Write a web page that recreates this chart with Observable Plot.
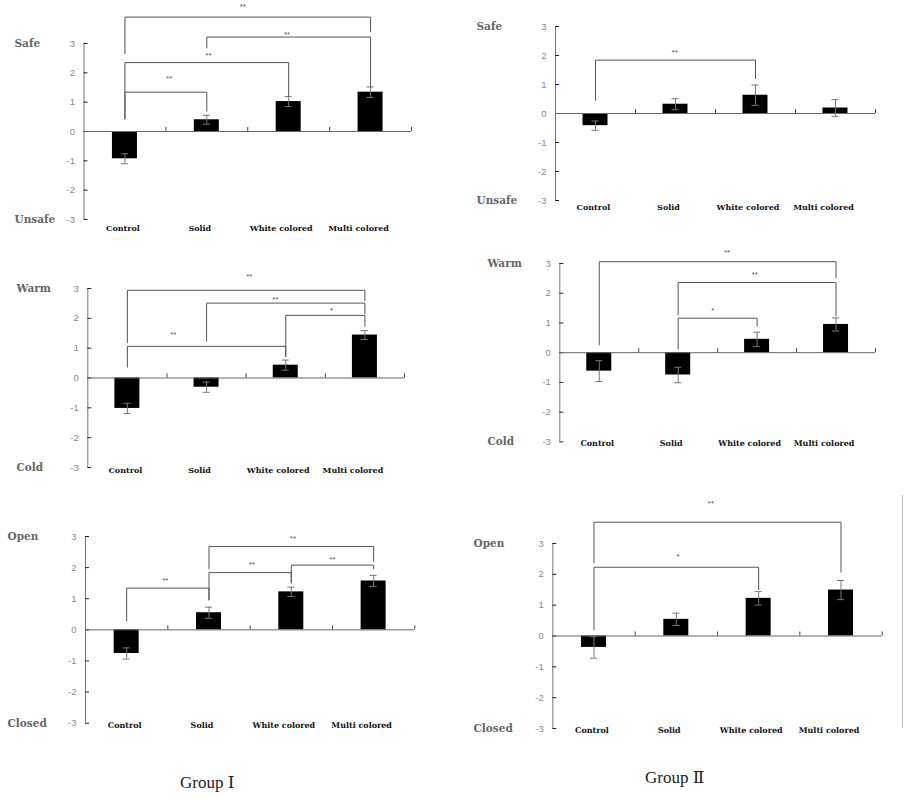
<!DOCTYPE html>
<html>
<head>
<meta charset="utf-8">
<script src="https://cdn.jsdelivr.net/npm/d3@7"></script>
<script src="https://cdn.jsdelivr.net/npm/@observablehq/plot@0.6"></script>
<style>
  html, body { margin: 0; padding: 0; background: #fff; }
  #page { position: relative; width: 908px; height: 799px; overflow: hidden; background: #fff; }
  .grp { position: absolute; font-family: "Liberation Serif", "DejaVu Serif", "Noto Sans CJK KR", serif; font-size: 17px; color: #222; white-space: nowrap; }
</style>
</head>
<body>
<div id="page"></div>
<script>
// ---------- data ----------
const categories = ["Control", "Solid", "White colored", "Multi colored"];
const yTicks = [-3, -2, -1, 0, 1, 2, 3];

const g1SafeMean = [-0.93, 0.40, 1.02, 1.34];
const g1SafeErr  = [0.17, 0.15, 0.17, 0.18];
const g2SafeMean = [-0.42, 0.32, 0.63, 0.19];
const g2SafeErr  = [0.16, 0.19, 0.35, 0.29];
const g1WarmMean = [-1.02, -0.31, 0.43, 1.44];
const g1WarmErr  = [0.17, 0.17, 0.17, 0.15];
const g2WarmMean = [-0.62, -0.75, 0.45, 0.95];
const g2WarmErr  = [0.35, 0.26, 0.24, 0.22];
const g1OpenMean = [-0.76, 0.55, 1.22, 1.57];
const g1OpenErr  = [0.18, 0.18, 0.15, 0.18];
const g2OpenMean = [-0.37, 0.54, 1.22, 1.49];
const g2OpenErr  = [0.35, 0.20, 0.22, 0.31];

// significance brackets:
// [fromCategory, toCategory, top, leftLegEnd, rightLegEnd, label, labelPos (category units), labelLevel]
const g1SafeSig = [
  [0, 3, 3.90, 2.64, 3.39, "**", 1.94, 4.27],
  [1, 3, 3.22, 2.84, 1.50, "**", 2.48, 3.32],
  [0, 2, 2.35, 0.42, 1.19, "**", 1.52, 2.60],
  [0, 1, 1.34, 0.42, 0.68, "**", 1.04, 1.80]
];
const g2SafeSig = [
  [0, 2, 1.84, 0.44, 1.19, "**", 1.49, 2.10]
];
const g1WarmSig = [
  [0, 3, 2.94, 1.17, 2.58, "**", 2.04, 3.42],
  [1, 3, 2.51, 1.22, 2.14, "**", 2.37, 2.65],
  [2, 3, 2.10, 0.71, 1.72, "*",  3.08, 2.27],
  [0, 2, 1.06, 0.35, 0.71, "**", 1.08, 1.47]
];
const g2WarmSig = [
  [0, 3, 3.06, 0.25, 2.50, "**", 2.12, 3.37],
  [1, 3, 2.36, 1.26, 1.23, "**", 2.47, 2.64],
  [1, 2, 1.16, 0.11, 0.88, "*",  1.94, 1.42]
];
const g1OpenSig = [
  [1, 3, 2.68, 1.95, 2.19, "**", 2.52, 2.94],
  [1, 2, 1.84, 0.95, 1.49, "**", 2.02, 2.11],
  [2, 3, 2.08, 1.52, 1.95, "**", 3.00, 2.27],
  [0, 1, 1.34, 0.27, 0.95, "**", 0.97, 1.58]
];
const g2OpenSig = [
  [0, 3, 3.69, 2.36, 2.06, "**", 1.92, 4.29],
  [0, 2, 2.23, 0.19, 1.49, "*",  1.52, 2.58]
];

const scaleLabels = {
  safe: ["Safe", "Unsafe"],
  warm: ["Warm", "Cold"],
  open: ["Open", "Closed"]
};
const groupTitles = ["Group Ⅰ", "Group Ⅱ"];

// ---------- layout (page pixels) ----------
const catShift = [-2, -7, -7.5, -12];   // horizontal nudge of category labels
const panels = [
  {mean: g1SafeMean, err: g1SafeErr, sig: g1SafeSig, names: scaleLabels.safe, axisX: 83.5,  xEnd: 411,   y3: 43.3,  ym3: 219.3, labelLeft: 14,  catDy: 8.7},
  {mean: g2SafeMean, err: g2SafeErr, sig: g2SafeSig, names: scaleLabels.safe, axisX: 555,   xEnd: 875,   y3: 26,    ym3: 200,   labelLeft: 476, catDy: 7.3},
  {mean: g1WarmMean, err: g1WarmErr, sig: g1WarmSig, names: scaleLabels.warm, axisX: 87.3,  xEnd: 404,   y3: 287.7, ym3: 466.7, labelLeft: 16,  catDy: 2.8},
  {mean: g2WarmMean, err: g2WarmErr, sig: g2WarmSig, names: scaleLabels.warm, axisX: 559.3, xEnd: 875,   y3: 263.3, ym3: 441.7, labelLeft: 487, catDy: 2.0},
  {mean: g1OpenMean, err: g1OpenErr, sig: g1OpenSig, names: scaleLabels.open, axisX: 85,    xEnd: 414.3, y3: 536,   ym3: 722.7, labelLeft: 7,   catDy: 1.8},
  {mean: g2OpenMean, err: g2OpenErr, sig: g2OpenSig, names: scaleLabels.open, axisX: 552.3, xEnd: 881.7, y3: 543.3, ym3: 728.3, labelLeft: 473, catDy: 2.0}
];

const page = document.getElementById("page");

function drawPanel(cfg) {
  const mt = 44, mb = 16, mr = 6;
  const ml = cfg.axisX - cfg.labelLeft + 2;
  const width = ml + (cfg.xEnd - cfg.axisX) + mr;
  const height = mt + (cfg.ym3 - cfg.y3) + mb;
  const bw = (cfg.xEnd - cfg.axisX) / 4;
  const inset = (bw - 25) / 2;

  const rows = categories.map((c, i) => ({c, i, v: cfg.mean[i], e: cfg.err[i], dx: catShift[i]}));
  const segs = [];
  cfg.sig.forEach(([a, b, top, lb, rb]) => {
    segs.push({x1: a + 0.5, y1: top, x2: b + 0.5, y2: top});
    segs.push({x1: a + 0.5, y1: top, x2: a + 0.5, y2: lb});
    segs.push({x1: b + 0.5, y1: top, x2: b + 0.5, y2: rb});
  });
  const sigLabels = cfg.sig.map(([a, b, top, lb, rb, t, lx, ly]) => ({x: lx, y: ly, t}));
  const sideLabels = [{y: 3, t: cfg.names[0]}, {y: -3, t: cfg.names[1]}];

  const catMarks = rows.map(r =>
    Plot.text([r], {x: d => d.i + 0.5, y: -3, text: "c", dy: cfg.catDy, dx: r.dx,
      fontFamily: "DejaVu Serif, serif", fontWeight: "bold", fontSize: 8, fill: "#111", lineAnchor: "middle"}));

  const svg = Plot.plot({
    width, height,
    marginLeft: ml, marginRight: mr, marginTop: mt, marginBottom: mb,
    x: {domain: [0, 4], axis: null},
    y: {domain: [-3, 3], axis: null},
    style: {fontFamily: "Liberation Sans, sans-serif", background: "transparent", overflow: "visible"},
    marks: [
      // y axis line and inward ticks
      Plot.ruleX([0], {y1: -3, y2: 3, stroke: "#777", strokeWidth: 1}),
      Plot.ruleY(yTicks, {y: d => d, x1: 0, x2: 0, insetRight: -4, stroke: "#222"}),
      Plot.text(yTicks, {x: 0, y: d => d, text: d => String(d), dx: -9, textAnchor: "end", fontSize: 9.5, fill: "#888"}),
      // bars
      Plot.rect(rows, {x1: "i", x2: d => d.i + 1, y1: 0, y2: "v", fill: "#000", insetLeft: inset, insetRight: inset}),
      // baseline with category boundary ticks
      Plot.ruleY([0], {x1: 0, x2: 4, stroke: "#666"}),
      Plot.ruleX([1, 2, 3, 4], {x: d => d, y1: 0, y2: 0, insetTop: -4, stroke: "#444"}),
      // error bars
      Plot.ruleX(rows, {x: d => d.i + 0.5, y1: d => d.v - d.e, y2: d => d.v + d.e, stroke: "#777"}),
      Plot.ruleY(rows, {y: d => d.v + d.e, x1: d => d.i + 0.5, x2: d => d.i + 0.5, insetLeft: -3.5, insetRight: -3.5, stroke: "#777"}),
      Plot.ruleY(rows, {y: d => d.v - d.e, x1: d => d.i + 0.5, x2: d => d.i + 0.5, insetLeft: -3.5, insetRight: -3.5, stroke: "#777"}),
      // significance brackets
      Plot.link(segs, {x1: "x1", y1: "y1", x2: "x2", y2: "y2", stroke: "#555", strokeWidth: 1}),
      Plot.text(sigLabels, {x: "x", y: "y", text: "t", fontSize: 8, fill: "#555", lineAnchor: "middle"}),
      // category labels
      ...catMarks,
      // scale end labels
      Plot.text(sideLabels, {x: 0, y: "y", text: "t", dx: -(cfg.axisX - cfg.labelLeft), textAnchor: "start", fontFamily: "DejaVu Serif, serif", fontWeight: "bold", fontSize: 10.5, fill: "#666", lineAnchor: "middle"})
    ]
  });
  svg.style.position = "absolute";
  svg.style.left = (cfg.labelLeft - 2) + "px";
  svg.style.top = (cfg.y3 - mt) + "px";
  page.appendChild(svg);
}

panels.forEach(drawPanel);

// thin frame line at the right of the last panel
const edge = document.createElement("div");
Object.assign(edge.style, {position: "absolute", left: "902px", top: "495px", width: "1px", height: "233px", background: "#bbb"});
page.appendChild(edge);

// group captions
const gpos = [{left: 180, top: 772}, {left: 645, top: 767}];
groupTitles.forEach((t, k) => {
  const d = document.createElement("div");
  d.className = "grp";
  d.textContent = t;
  d.style.left = gpos[k].left + "px";
  d.style.top = gpos[k].top + "px";
  page.appendChild(d);
});
</script>
</body>
</html>
